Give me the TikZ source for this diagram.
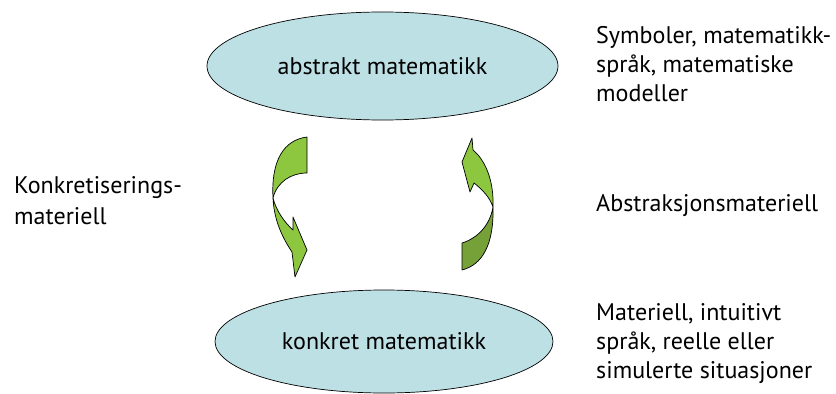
\documentclass[tikz,border=0pt]{standalone}
\usepackage{fontspec}
\setmainfont{PT Sans}
\usetikzlibrary{shapes,positioning,calc}
\definecolor{ellblue}{RGB}{189,224,229}
\definecolor{lightgreen}{RGB}{141,198,63}
\definecolor{darkgreen}{RGB}{118,160,56}

\begin{document}
\begin{tikzpicture}[x=0.03cm,y=-0.03cm,
  level/.style={ellipse,draw=black,fill=ellblue,line width=0.6pt,inner sep=0pt,font=\fontsize{20.5}{24}\selectfont},
  side/.style={anchor=north west,inner sep=0pt,align=left,font=\fontsize{20.5}{24.5}\selectfont},
  twist/.style={draw=black,line width=0.6pt,line join=round}]
\useasboundingbox (0,0) rectangle (836,394);
% the two levels
\node[level,minimum width=10.53cm,minimum height=3.24cm] (abstrakt) at (382.5,66) {abstrakt matematikk};
\node[level,minimum width=10.14cm,minimum height=3.09cm] (konkret) at (384,341.5) {konkret matematikk};
% left arrow (down)
\filldraw[twist,fill=lightgreen] (307,137) .. controls (284,140) and (271,160) .. (273,198)
  .. controls (277,182) and (291,173) .. (307,173) -- cycle;
\filldraw[twist,fill=lightgreen] (273,198) .. controls (274,222) and (284,240) .. (292,252)
  -- (295,277) -- (307,250) -- (293,217) -- (293,230)
  .. controls (284,222) and (276,210) .. (273,198) -- cycle;
% right arrow (up)
\filldraw[twist,fill=darkgreen] (462,243) -- (462,270) .. controls (482,265) and (494,245) .. (493,207)
  .. controls (490,225) and (478,238) .. (462,243) -- cycle;
\filldraw[twist,fill=lightgreen] (493,207) .. controls (494,180) and (485,160) .. (473,150)
  -- (472,138) -- (462,162) -- (470,192) -- (474,183)
  .. controls (483,190) and (490,198) .. (493,207) -- cycle;
% texts
\node[side] (symb) at (596,26.5) {Symboler, matematikk-\\språk, matematiske\\modeller};
\node[side] (abstr) at (596,194.5) {Abstraksjonsmateriell};
\node[side] (mater) at (596,303.5) {Materiell, intuitivt\\språk, reelle eller\\simulerte situasjoner};
\node[side,font=\fontsize{20.5}{26.5}\selectfont] (konkr) at (14,176.5) {Konkretiserings-\\materiell};
\end{tikzpicture}
\end{document}
